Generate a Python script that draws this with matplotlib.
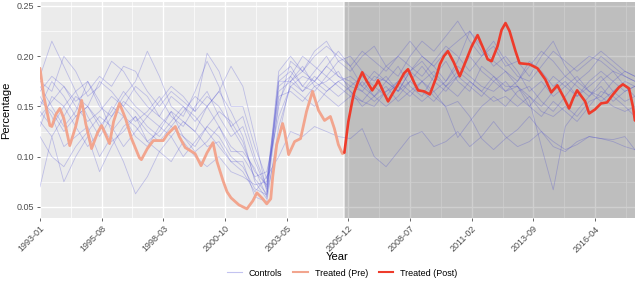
import numpy as np
import pandas as pd
import matplotlib
matplotlib.use('Agg')
import matplotlib.pyplot as plt
import matplotlib.dates as mdates
from matplotlib.lines import Line2D

plt.rcParams['font.family'] = ['Liberation Sans', 'DejaVu Sans']

# Treated unit (pre and post treatment)
treated_pre_dates = ['1993-01', '1993-03', '1993-06', '1993-07', '1993-09', '1993-11', '1994-01',
                     '1994-04', '1994-07', '1994-10', '1994-12', '1995-03', '1995-06', '1995-08',
                     '1995-12', '1996-02', '1996-05', '1996-08', '1996-11', '1997-03', '1997-04',
                     '1997-07', '1997-10', '1998-03', '1998-05', '1998-09', '1998-11', '1999-02',
                     '1999-07', '1999-10', '2000-01', '2000-04', '2000-06', '2000-09', '2000-11',
                     '2001-01', '2001-05', '2001-09', '2001-12', '2002-02', '2002-05', '2002-07',
                     '2002-09', '2002-10', '2002-12', '2003-03', '2003-04', '2003-06', '2003-09',
                     '2003-12', '2004-03', '2004-06', '2004-09', '2004-12', '2005-03', '2005-05',
                     '2005-07', '2005-09', '2005-10']
treated_pre = [0.188, 0.160, 0.131, 0.130, 0.142, 0.148, 0.138,
               0.111, 0.130, 0.156, 0.133, 0.108, 0.124, 0.131,
               0.113, 0.135, 0.153, 0.138, 0.118, 0.099, 0.097,
               0.108, 0.116, 0.116, 0.122, 0.130, 0.120, 0.109,
               0.103, 0.091, 0.104, 0.114, 0.095, 0.076, 0.065,
               0.059, 0.052, 0.048, 0.056, 0.064, 0.058, 0.053,
               0.058, 0.080, 0.112, 0.133, 0.125, 0.102, 0.115,
               0.118, 0.145, 0.165, 0.146, 0.136, 0.140, 0.128,
               0.112, 0.103, 0.104]

treated_post_dates = ['2005-10', '2005-12', '2006-02', '2006-03', '2006-05', '2006-07', '2006-09',
                      '2006-12', '2007-02', '2007-03', '2007-06', '2007-08', '2007-10', '2008-01',
                      '2008-04', '2008-06', '2008-09', '2008-11', '2009-02', '2009-05', '2009-08',
                      '2009-10', '2009-12', '2010-02', '2010-05', '2010-08', '2010-11', '2011-02',
                      '2011-05', '2011-08', '2011-10', '2011-12', '2012-03', '2012-05', '2012-07',
                      '2012-09', '2012-12', '2013-02', '2013-07', '2013-11', '2014-03', '2014-06',
                      '2014-09', '2014-12', '2015-03', '2015-05', '2015-07', '2015-11', '2016-01',
                      '2016-04', '2016-07', '2016-10', '2017-01', '2017-04', '2017-06', '2017-09',
                      '2017-11', '2017-12']
treated_post = [0.104, 0.135, 0.156, 0.164, 0.175, 0.184, 0.176,
                0.166, 0.172, 0.176, 0.163, 0.155, 0.162, 0.172,
                0.183, 0.187, 0.174, 0.166, 0.165, 0.162, 0.178,
                0.192, 0.200, 0.205, 0.194, 0.180, 0.195, 0.210,
                0.221, 0.207, 0.197, 0.195, 0.210, 0.226, 0.233,
                0.225, 0.205, 0.193, 0.192, 0.188, 0.177, 0.164,
                0.171, 0.160, 0.148, 0.158, 0.166, 0.155, 0.143,
                0.147, 0.153, 0.154, 0.162, 0.169, 0.172, 0.168,
                0.150, 0.136]

control_dates = list(pd.date_range('1993-01-01', '2017-07-01', freq='6MS').strftime('%Y-%m')) + ['2017-12']
controls = [
    [0.180, 0.215, 0.190, 0.165, 0.175, 0.150, 0.140, 0.160, 0.175, 0.205, 0.180, 0.150, 0.140,
     0.165, 0.195, 0.170, 0.130, 0.110, 0.085, 0.072, 0.150, 0.195, 0.185, 0.205, 0.215, 0.195,
     0.185, 0.200, 0.210, 0.190, 0.180, 0.200, 0.215, 0.205, 0.220, 0.235, 0.215, 0.200, 0.210,
     0.190, 0.195, 0.180, 0.200, 0.215, 0.190, 0.175, 0.185, 0.200, 0.190, 0.180, 0.175],
    [0.175, 0.165, 0.200, 0.185, 0.160, 0.170, 0.195, 0.185, 0.165, 0.150, 0.140, 0.160, 0.150,
     0.135, 0.150, 0.165, 0.145, 0.120, 0.075, 0.058, 0.175, 0.185, 0.170, 0.185, 0.200, 0.180,
     0.175, 0.165, 0.180, 0.175, 0.165, 0.185, 0.200, 0.190, 0.175, 0.195, 0.225, 0.205, 0.190,
     0.200, 0.185, 0.165, 0.175, 0.160, 0.170, 0.180, 0.165, 0.160, 0.175, 0.185, 0.180],
    [0.170, 0.150, 0.130, 0.145, 0.175, 0.155, 0.125, 0.140, 0.130, 0.115, 0.125, 0.145, 0.120,
     0.110, 0.130, 0.120, 0.100, 0.090, 0.068, 0.062, 0.120, 0.175, 0.190, 0.170, 0.175, 0.185,
     0.165, 0.155, 0.170, 0.180, 0.165, 0.175, 0.190, 0.175, 0.165, 0.180, 0.200, 0.185, 0.175,
     0.165, 0.170, 0.150, 0.140, 0.155, 0.145, 0.135, 0.150, 0.165, 0.160, 0.150, 0.140],
    [0.160, 0.140, 0.110, 0.120, 0.130, 0.100, 0.120, 0.095, 0.063, 0.080, 0.105, 0.095, 0.115,
     0.100, 0.090, 0.100, 0.085, 0.080, 0.072, 0.075, 0.160, 0.165, 0.155, 0.170, 0.160, 0.150,
     0.160, 0.155, 0.150, 0.165, 0.170, 0.160, 0.175, 0.185, 0.170, 0.160, 0.175, 0.165, 0.155,
     0.160, 0.150, 0.160, 0.145, 0.140, 0.150, 0.140, 0.155, 0.160, 0.150, 0.145, 0.150],
    [0.070, 0.120, 0.075, 0.100, 0.120, 0.085, 0.110, 0.130, 0.140, 0.115, 0.105, 0.120, 0.135,
     0.125, 0.110, 0.115, 0.095, 0.095, 0.060, 0.055, 0.130, 0.170, 0.180, 0.175, 0.190, 0.205,
     0.190, 0.170, 0.160, 0.175, 0.190, 0.170, 0.160, 0.180, 0.195, 0.175, 0.165, 0.190, 0.180,
     0.165, 0.175, 0.195, 0.185, 0.170, 0.180, 0.170, 0.160, 0.175, 0.185, 0.170, 0.160],
    [0.150, 0.175, 0.160, 0.140, 0.150, 0.175, 0.165, 0.150, 0.135, 0.145, 0.160, 0.140, 0.130,
     0.150, 0.165, 0.140, 0.120, 0.130, 0.095, 0.068, 0.180, 0.190, 0.170, 0.165, 0.180, 0.170,
     0.160, 0.175, 0.160, 0.150, 0.160, 0.175, 0.165, 0.155, 0.170, 0.180, 0.170, 0.160, 0.175,
     0.185, 0.170, 0.160, 0.150, 0.165, 0.175, 0.160, 0.170, 0.180, 0.165, 0.155, 0.160],
    [0.145, 0.130, 0.150, 0.165, 0.140, 0.120, 0.140, 0.155, 0.145, 0.130, 0.120, 0.135, 0.150,
     0.140, 0.125, 0.110, 0.095, 0.085, 0.065, 0.080, 0.100, 0.125, 0.120, 0.130, 0.125, 0.120,
     0.118, 0.128, 0.100, 0.090, 0.105, 0.120, 0.125, 0.110, 0.115, 0.125, 0.110, 0.120, 0.135,
     0.120, 0.110, 0.115, 0.125, 0.110, 0.105, 0.115, 0.120, 0.118, 0.115, 0.110, 0.107],
    [0.140, 0.155, 0.170, 0.150, 0.135, 0.145, 0.160, 0.150, 0.170, 0.160, 0.140, 0.130, 0.145,
     0.160, 0.150, 0.130, 0.105, 0.105, 0.088, 0.060, 0.155, 0.180, 0.165, 0.175, 0.165, 0.175,
     0.180, 0.170, 0.185, 0.175, 0.165, 0.185, 0.195, 0.180, 0.170, 0.185, 0.175, 0.165, 0.180,
     0.170, 0.170, 0.156, 0.110, 0.067, 0.130, 0.146, 0.160, 0.170, 0.155, 0.165, 0.170],
    [0.155, 0.145, 0.125, 0.140, 0.150, 0.135, 0.115, 0.125, 0.140, 0.125, 0.115, 0.130, 0.120,
     0.105, 0.115, 0.130, 0.110, 0.100, 0.080, 0.085, 0.140, 0.170, 0.160, 0.150, 0.165, 0.175,
     0.165, 0.150, 0.160, 0.170, 0.155, 0.165, 0.175, 0.160, 0.150, 0.155, 0.140, 0.118, 0.107,
     0.118, 0.127, 0.140, 0.125, 0.115, 0.107, 0.112, 0.120, 0.118, 0.117, 0.120, 0.107],
    [0.165, 0.180, 0.170, 0.155, 0.165, 0.180, 0.170, 0.190, 0.185, 0.165, 0.150, 0.165, 0.155,
     0.145, 0.160, 0.150, 0.130, 0.140, 0.100, 0.070, 0.185, 0.200, 0.185, 0.175, 0.190, 0.180,
     0.170, 0.165, 0.155, 0.165, 0.175, 0.165, 0.155, 0.165, 0.149, 0.119, 0.135, 0.150, 0.160,
     0.150, 0.165, 0.170, 0.155, 0.145, 0.160, 0.175, 0.165, 0.155, 0.165, 0.175, 0.170],
    [0.135, 0.120, 0.140, 0.160, 0.150, 0.130, 0.145, 0.165, 0.150, 0.140, 0.155, 0.170, 0.160,
     0.145, 0.203, 0.185, 0.150, 0.150, 0.110, 0.078, 0.170, 0.180, 0.200, 0.190, 0.180, 0.195,
     0.200, 0.185, 0.175, 0.190, 0.200, 0.190, 0.180, 0.195, 0.210, 0.200, 0.185, 0.200, 0.215,
     0.195, 0.180, 0.175, 0.190, 0.205, 0.195, 0.185, 0.195, 0.205, 0.195, 0.185, 0.180],
    [0.120, 0.100, 0.090, 0.110, 0.125, 0.140, 0.130, 0.110, 0.125, 0.140, 0.130, 0.145, 0.135,
     0.125, 0.150, 0.165, 0.190, 0.170, 0.120, 0.065, 0.165, 0.175, 0.185, 0.200, 0.210, 0.200,
     0.190, 0.205, 0.195, 0.185, 0.200, 0.215, 0.200, 0.190, 0.205, 0.215, 0.225, 0.210, 0.195,
     0.185, 0.175, 0.190, 0.205, 0.195, 0.180, 0.190, 0.200, 0.195, 0.185, 0.180, 0.175],
    [0.130, 0.160, 0.150, 0.130, 0.110, 0.125, 0.150, 0.140, 0.120, 0.110, 0.130, 0.120, 0.100,
     0.115, 0.130, 0.145, 0.135, 0.115, 0.078, 0.063, 0.175, 0.175, 0.165, 0.180, 0.170, 0.160,
     0.170, 0.180, 0.170, 0.160, 0.175, 0.185, 0.175, 0.165, 0.175, 0.190, 0.180, 0.170, 0.165,
     0.175, 0.160, 0.150, 0.165, 0.180, 0.170, 0.160, 0.175, 0.185, 0.175, 0.165, 0.170],
]

x_breaks = ['1993-01', '1995-08', '1998-03', '2000-10', '2003-05',
            '2005-12', '2008-07', '2011-02', '2013-09', '2016-04']
y_breaks = [0.05, 0.10, 0.15, 0.20, 0.25]

CTRL_COLOR = '#3a3ad0'
PRE_COLOR = '#f2a58e'
POST_COLOR = '#ee3b2b'

fig = plt.figure(figsize=(6.4, 2.83), dpi=100)
ax = fig.add_axes([0.0625, 0.23, 0.9295, 0.763])
ax.set_facecolor('#ebebeb')

to_dt = lambda s: pd.to_datetime(s, format='%Y-%m')

cd = to_dt(control_dates)
for series in controls:
    ax.plot(cd, series, color=CTRL_COLOR, alpha=0.26, lw=0.6, zorder=3)

ax.plot(to_dt(treated_pre_dates), treated_pre, color=PRE_COLOR, lw=2.0, zorder=4,
        solid_capstyle='round', solid_joinstyle='round')
ax.plot(to_dt(treated_post_dates), treated_post, color=POST_COLOR, lw=1.9, zorder=5,
        solid_capstyle='round', solid_joinstyle='round')

x0, x1 = to_dt('1993-01'), to_dt('2017-12')
ax.set_xlim(x0, x1)
ax.set_ylim(0.039, 0.254)

# post-treatment shading drawn over the grid
post_start = to_dt(treated_post_dates[0])
ax.axvspan(post_start, x1, color='black', alpha=0.19, lw=0, zorder=2)
ax.axvline(post_start, color='white', lw=1.2, alpha=0.7, zorder=2)

# ticks and grid
xb = to_dt(x_breaks)
ax.set_xticks(xb)
ax.set_xticklabels(x_breaks, rotation=45, ha='right', rotation_mode='anchor',
                   fontsize=6.5, color='#4d4d4d')
xn = mdates.date2num(xb)
step = xn[1] - xn[0]
ax.set_xticks(list(xn[:-1] + step / 2) + [xn[-1] + step / 2], minor=True)
ax.set_yticks(y_breaks)
ax.set_yticklabels(['%.2f' % v for v in y_breaks], fontsize=6.5, color='#4d4d4d')
ax.set_yticks([0.075, 0.125, 0.175, 0.225], minor=True)
ax.tick_params(which='major', length=2.5, width=0.6, color='#4d4d4d', pad=2)
ax.tick_params(which='minor', length=0)
ax.grid(True, which='major', color='white', lw=1.0, zorder=1)
ax.grid(True, which='minor', color='white', lw=0.5, zorder=1)
ax.set_axisbelow(True)
for sp in ax.spines.values():
    sp.set_visible(False)

ax.set_xlabel('Year', fontsize=8)
ax.xaxis.set_label_coords(0.5, -0.16)
ax.set_ylabel('Percentage', fontsize=8, labelpad=4)

handles = [Line2D([], [], color=CTRL_COLOR, alpha=0.3, lw=0.8),
           Line2D([], [], color=PRE_COLOR, lw=1.5),
           Line2D([], [], color=POST_COLOR, lw=1.5)]
leg = fig.legend(handles, ['Controls', 'Treated (Pre)', 'Treated (Post)'],
                 loc='center', bbox_to_anchor=(0.535, 0.035), ncol=3, frameon=False,
                 fontsize=6.5, handlelength=1.6, columnspacing=1.2, handletextpad=0.8)

fig.savefig('out.png', dpi=100)
